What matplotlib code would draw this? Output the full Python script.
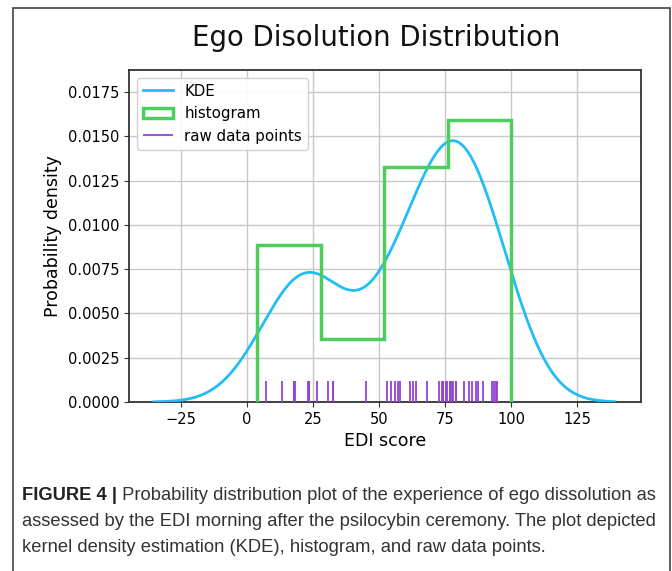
import numpy as np
import matplotlib
matplotlib.use("Agg")
import matplotlib.pyplot as plt
from matplotlib.patches import Rectangle
import matplotlib.transforms as mtransforms

# EDI scores (duplicates where ticks look thick)
edi_scores = [3.8, 7.3, 13.2, 17.9, 17.9, 18.3, 23.1, 23.6, 23.6, 26.6,
              30.5, 32.4, 32.4, 45.1,
              53.1, 54.4, 55.9, 57.1, 57.9, 61.8, 62.8, 64.1, 68.3,
              72.8, 73.8, 74.4, 74.4, 75.3, 75.9,
              76.7, 76.7, 77.5, 78.0, 79.2, 79.2, 82.0, 84.2, 85.1, 86.8,
              87.3, 89.2, 92.6, 93.6, 94.3, 94.8, 100.0, 100.0]
xticks = [-25, 0, 25, 50, 75, 100, 125]
yticks = [0.0, 0.0025, 0.005, 0.0075, 0.01, 0.0125, 0.015, 0.0175]

title = "Ego Disolution Distribution"
caption_bold = "FIGURE 4 |"
caption_lines = [
    " Probability distribution plot of the experience of ego dissolution as",
    "assessed by the EDI morning after the psilocybin ceremony. The plot depicted",
    "kernel density estimation (KDE), histogram, and raw data points.",
]

kde_col = "#22bdf7"
hist_col = "#4ccd5c"
rug_col = "#9242d4"

data = np.array(edi_scores)
n = len(data)
bw = data.std(ddof=1) * n ** (-1 / 5)   # scott's rule
xs = np.linspace(data.min() - 3 * bw, data.max() + 3 * bw, 400)
dens = np.exp(-0.5 * ((xs[:, None] - data[None, :]) / bw) ** 2).sum(axis=1)
dens = dens / (n * bw * np.sqrt(2 * np.pi))

fig = plt.figure(figsize=(6.72, 5.71), dpi=100)
ax = fig.add_axes([129 / 672, 1 - 402 / 571, 512 / 672, 332 / 571])

ax.plot(xs, dens, color=kde_col, lw=2, label="KDE", zorder=3)
trans = mtransforms.blended_transform_factory(ax.transData, ax.transAxes)
ax.vlines(data, 0, 0.063, transform=trans, color=rug_col, lw=1.3,
          label="raw data points", zorder=3)
ax.hist(data, bins=4, density=True, histtype="step", color=hist_col, lw=2.5,
        label="histogram", zorder=4)

ax.set_xlim(-44.7, 149.2)
ax.set_ylim(0, 0.01874)
ax.set_xticks(xticks)
ax.set_yticks(yticks)
ax.set_yticklabels([f"{v:.4f}" for v in yticks])
ax.tick_params(labelsize=10.5, color="#333333")
ax.grid(True, color="#c8c8c8", lw=1)
ax.set_axisbelow(True)
for s in ax.spines.values():
    s.set_color("#333333")
    s.set_linewidth(1.3)
ax.set_xlabel("EDI score", fontsize=12.5)
ax.set_ylabel("Probability density", fontsize=12.5)
fig.text(376.5 / 672, 1 - 38 / 571, title, fontsize=19.8, ha="center",
         va="center", color="#111111")

handles, labels = ax.get_legend_handles_labels()
order = [labels.index(l) for l in ["KDE", "histogram", "raw data points"]]
ax.legend([handles[i] for i in order], [labels[i] for i in order],
          loc="upper left", fontsize=10.8, framealpha=0.9)

# outer frame and caption
fig.patches.append(Rectangle((13 / 672, -0.1), 657 / 672, 1.1 - 8 / 571,
                             transform=fig.transFigure, fill=False,
                             edgecolor="#444444", lw=1.2))
cap_fs = 13.2
y0 = 1 - 496 / 571
t = fig.text(22 / 672, y0, caption_bold, fontsize=cap_fs, fontweight="bold",
             family="Liberation Sans", va="center", color="#222222")
fig.canvas.draw()
bb = t.get_window_extent()
fig.text(bb.x1 / 672, y0, caption_lines[0], fontsize=cap_fs,
         family="Liberation Sans", va="center", color="#333333")
for i, line in enumerate(caption_lines[1:], start=1):
    fig.text(22 / 672, 1 - (496 + 26 * i) / 571, line, fontsize=cap_fs,
             family="Liberation Sans", va="center", color="#333333")

fig.savefig("out.png", dpi=100)
